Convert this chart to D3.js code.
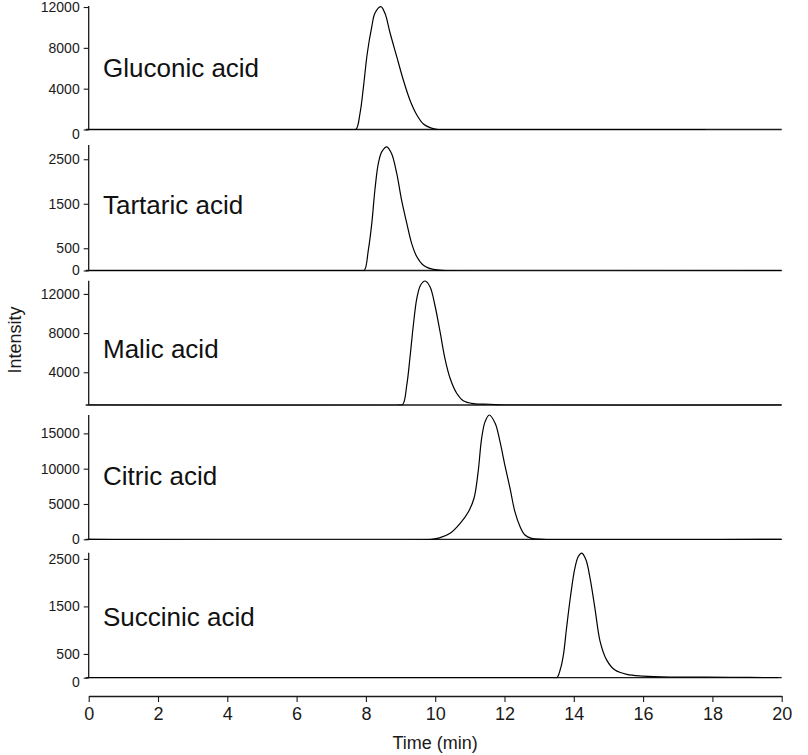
<!DOCTYPE html>
<html>
<head>
<meta charset="utf-8">
<script src="https://cdn.jsdelivr.net/npm/d3@7/dist/d3.min.js"></script>
<style>
  html, body { margin: 0; padding: 0; background: #fff; }
  svg { display: block; font-family: "Liberation Sans", Arial, sans-serif; }
</style>
</head>
<body>
<svg id="chart" width="808" height="755"></svg>
<script>
// Chromatograms, time in minutes, intensity in counts
const panelNames = ['Gluconic acid', 'Tartaric acid', 'Malic acid', 'Citric acid', 'Succinic acid'];

const gluconicTime = [0, 7.5, 7.71, 7.83, 7.93, 8.04, 8.17, 8.26, 8.43, 8.55, 8.70, 8.89, 9.08, 9.27, 9.47, 9.66, 9.85, 10.04, 10.3, 17.8];
const gluconicIntensity = [0, 0, 0, 1590, 4200, 7470, 10080, 11390, 12040, 11390, 9430, 7140, 4850, 2890, 1420, 540, 180, 20, 0, 0];

const tartaricTime = [0, 7.8, 7.95, 8.07, 8.17, 8.26, 8.36, 8.46, 8.60, 8.74, 8.89, 9.03, 9.18, 9.32, 9.47, 9.66, 9.95, 10.3, 20];
const tartaricIntensity = [0, 0, 0, 460, 1060, 1810, 2410, 2670, 2780, 2630, 2180, 1580, 1060, 610, 310, 120, 25, 0, 0];

const malicTime = [0, 8.9, 9.06, 9.18, 9.27, 9.37, 9.47, 9.58, 9.71, 9.85, 9.99, 10.14, 10.28, 10.43, 10.62, 10.81, 11.10, 11.58, 12.0, 20];
const malicIntensity = [660, 660, 700, 2700, 5430, 8830, 11550, 12910, 13320, 12740, 10870, 8140, 5430, 3390, 1860, 1100, 800, 735, 660, 660];

const citricTime = [0, 9.9, 10.14, 10.43, 10.72, 10.96, 11.12, 11.24, 11.34, 11.44, 11.56, 11.73, 11.87, 12.01, 12.16, 12.30, 12.45, 12.59, 12.78, 13.1, 20];
const citricIntensity = [0, 0, 230, 850, 2270, 3910, 5810, 9580, 14300, 16660, 17600, 16430, 13820, 10520, 7220, 3910, 1780, 610, 140, 0, 0];

const succinicTime = [0, 13.35, 13.51, 13.62, 13.70, 13.79, 13.91, 14.03, 14.13, 14.23, 14.35, 14.47, 14.61, 14.76, 14.95, 15.19, 15.53, 16.0, 16.78, 18.5, 19.9];
const succinicIntensity = [0, 0, 0, 200, 480, 1040, 1740, 2300, 2550, 2620, 2480, 2090, 1460, 760, 370, 160, 70, 35, 15, 10, 0];

// y domains and tick values per panel
const yDomains = [[0, 12100], [0, 2820], [660, 13350], [0, 17600], [0, 2630]];
const yTicks = [[0, 4000, 8000, 12000], [0, 500, 1500, 2500], [4000, 8000, 12000], [0, 5000, 10000, 15000], [0, 500, 1500, 2500]];
const xTicks = [0, 2, 4, 6, 8, 10, 12, 14, 16, 18, 20];

const series = [
  [gluconicTime, gluconicIntensity],
  [tartaricTime, tartaricIntensity],
  [malicTime, malicIntensity],
  [citricTime, citricIntensity],
  [succinicTime, succinicIntensity]
];

// layout (pixel positions of each panel: bottom / top of the y axis)
const panelBox = [[129.5, 6], [270.5, 145], [405, 280.7], [539.3, 415], [677.7, 552.7]];
const labelBaseline = [77, 214, 358, 485, 626];
const zeroNudge = [5, 0, 0, 0, 4];

const svg = d3.select('#chart');
const defs = svg.append('defs');
const ink = '#1a1a1a';

const x = d3.scaleLinear().domain([0, 20]).range([88.7, 781.7]);

series.forEach(function (s, i) {
  const [bottom, top] = panelBox[i];
  const y = d3.scaleLinear().domain(yDomains[i]).range([bottom, top]);
  const g = svg.append('g');

  // keep the spline from dipping below the panel floor
  defs.append('clipPath').attr('id', 'clip' + i)
    .append('rect')
    .attr('x', x(0)).attr('y', top - 5)
    .attr('width', x(20) - x(0)).attr('height', bottom - top + 5.6);

  // left axis line
  g.append('line')
    .attr('x1', x(0)).attr('x2', x(0))
    .attr('y1', top).attr('y2', bottom)
    .attr('stroke', ink).attr('stroke-width', 1.3);

  // bottom line of the panel
  g.append('line')
    .attr('x1', x(0) - 3).attr('x2', x(20))
    .attr('y1', bottom).attr('y2', bottom)
    .attr('stroke', ink).attr('stroke-width', 1.3);

  // ticks
  const ax = g.append('g')
    .attr('transform', 'translate(' + x(0) + ',0)')
    .call(d3.axisLeft(y).tickValues(yTicks[i]).tickSize(5).tickPadding(4).tickFormat(d3.format('d')));
  ax.select('.domain').remove();
  ax.selectAll('line').attr('stroke', ink).attr('stroke-width', 1.1);
  ax.selectAll('text')
    .attr('fill', ink)
    .style('font-size', '14px')
    .attr('dy', (d) => d === 0 ? (0.32 * 14 + zeroNudge[i]) + 'px' : '0.32em');

  // trace
  const pts = s[0].map((t, k) => [t, s[1][k]]);
  g.append('path')
    .datum(pts)
    .attr('clip-path', 'url(#clip' + i + ')')
    .attr('fill', 'none')
    .attr('stroke', '#000')
    .attr('stroke-width', 1.2)
    .attr('stroke-linejoin', 'round')
    .attr('d', d3.line().x((d) => x(d[0])).y((d) => y(d[1])).curve(d3.curveCatmullRom.alpha(0.5)));

  // compound name
  g.append('text')
    .attr('x', 103)
    .attr('y', labelBaseline[i])
    .attr('fill', '#111')
    .style('font-size', '26px')
    .text(panelNames[i]);
});

// shared time axis
const xAxis = svg.append('g')
  .attr('transform', 'translate(0,696)')
  .call(d3.axisBottom(x).tickValues(xTicks).tickSize(6).tickPadding(5).tickSizeOuter(0));
xAxis.select('.domain').attr('stroke', ink).attr('stroke-width', 1.3);
xAxis.selectAll('line').attr('stroke', ink).attr('stroke-width', 1.1);
xAxis.selectAll('text').attr('fill', ink).style('font-size', '18px');

svg.append('text')
  .attr('x', x(10))
  .attr('y', 749)
  .attr('text-anchor', 'middle')
  .attr('fill', ink)
  .style('font-size', '18px')
  .text('Time (min)');

svg.append('text')
  .attr('transform', 'translate(21,340) rotate(-90)')
  .attr('text-anchor', 'middle')
  .attr('fill', ink)
  .style('font-size', '18px')
  .text('Intensity');
</script>
</body>
</html>
